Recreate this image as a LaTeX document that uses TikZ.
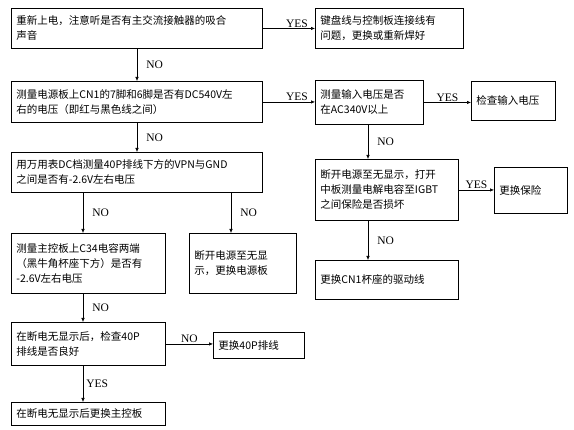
\documentclass[tikz,border=0pt]{standalone}
\usepackage{fontspec}
\setmainfont{Liberation Serif}
\newfontfamily\cjk{Noto Sans CJK SC}
\usetikzlibrary{arrows.meta}

\begin{document}
\begin{tikzpicture}[x=1pt,y=-1pt,
        box/.style={draw, line width=0.9pt, anchor=north west, align=left,
            inner xsep=5pt, inner ysep=0pt, font=\cjk\fontsize{10.5}{15}\selectfont},
        arr/.style={-{Latex[length=4pt,width=3.5pt]}, line width=0.6pt},
        lbl/.style={font=\fontsize{11.5}{13}\selectfont, inner sep=1pt}]
        \useasboundingbox[fill=white] (0,0) rectangle (574,430);

        % Left column
        \node[box, text width=241pt, minimum height=40pt] (power) at (11,8)
            {重新上电，注意听是否有主交流接触器的吸合\\声音};
        \node[box, text width=241pt, minimum height=41pt] (cn1) at (11,81)
            {测量电源板上CN1的7脚和6脚是否有DC540V左\\右的电压（即红与黑色线之间）};
        \node[box, text width=241pt, minimum height=40pt] (vpn) at (11,152)
            {用万用表DC档测量40P排线下方的VPN与GND\\之间是否有-2.6V左右电压};
        \node[box, text width=144pt, minimum height=60pt] (c34) at (11,233)
            {测量主控板上C34电容两端\\（黑牛角杯座下方）是否有\\-2.6V左右电压};
        \node[box, text width=97pt, minimum height=60pt] (psu) at (189,233)
            {断开电源至无显\\示，更换电源板};
        \node[box, text width=144pt, minimum height=43pt] (cable) at (11,322)
            {在断电无显示后，检查40P\\排线是否良好};
        \node[box, text width=81pt, minimum height=26pt] (newcable) at (213,332)
            {更换40P排线};
        \node[box, text width=144pt, minimum height=23pt] (mainboard) at (11,402)
            {在断电无显示后更换主控板};

        % Right column
        \node[box, text width=138pt, minimum height=40pt] (keyboard) at (315,8)
            {键盘线与控制板连接线有\\问题，更换或重新焊好};
        \node[box, text width=98pt, minimum height=44pt] (input) at (315,80)
            {测量输入电压是否\\在AC340V以上};
        \node[box, text width=74pt, minimum height=39pt] (checkin) at (471,81)
            {检查输入电压};
        \node[box, text width=133pt, minimum height=61pt] (fuse) at (315,159)
            {断开电源至无显示，打开\\中板测量电解电容至IGBT\\之间保险是否损坏};
        \node[box, text width=63pt, minimum height=46pt] (newfuse) at (494,167)
            {更换保险};
        \node[box, text width=133pt, minimum height=39pt] (drive) at (315,260)
            {更换CN1杯座的驱动线};

        % Columns of the vertical arrows
        \coordinate (colA) at (137,0);
        \coordinate (colB) at (83,0);
        \coordinate (colC) at (231,0);
        \coordinate (colD) at (368,0);

        % Arrows
        \draw[arr] (power.east) -- node[lbl, above, pos=0.5, xshift=8pt] {YES} (power.east -| keyboard.west);
        \draw[arr] (power.south -| colA) -- node[lbl, right=8pt] {NO} (cn1.north -| colA);
        \draw[arr] (cn1.east) -- node[lbl, above, xshift=8pt] {YES} (cn1.east -| input.west);
        \draw[arr] (input.east) -- node[lbl, above] {YES} (input.east -| checkin.west);
        \draw[arr] (input.south -| colD) -- node[lbl, right=8pt] {NO} (fuse.north -| colD);
        \draw[arr] (fuse.east) -- node[lbl, above] {YES} (fuse.east -| newfuse.west);
        \draw[arr] (fuse.south -| colD) -- node[lbl, right=8pt] {NO} (drive.north -| colD);
        \draw[arr] (cn1.south -| colA) -- node[lbl, right=8pt] {NO} (vpn.north -| colA);
        \draw[arr] (vpn.south -| colB) -- node[lbl, right=8pt] {NO} (c34.north -| colB);
        \draw[arr] (vpn.south -| colC) -- node[lbl, right=8pt] {NO} (psu.north -| colC);
        \draw[arr] (c34.south -| colB) -- node[lbl, right=8pt] {NO} (cable.north -| colB);
        \draw[arr] (cable.east) -- node[lbl, above] {NO} (cable.east -| newcable.west);
        \draw[arr] (cable.south -| colB) -- node[lbl, right=2pt] {YES} (mainboard.north -| colB);
    \end{tikzpicture}
\end{document}
